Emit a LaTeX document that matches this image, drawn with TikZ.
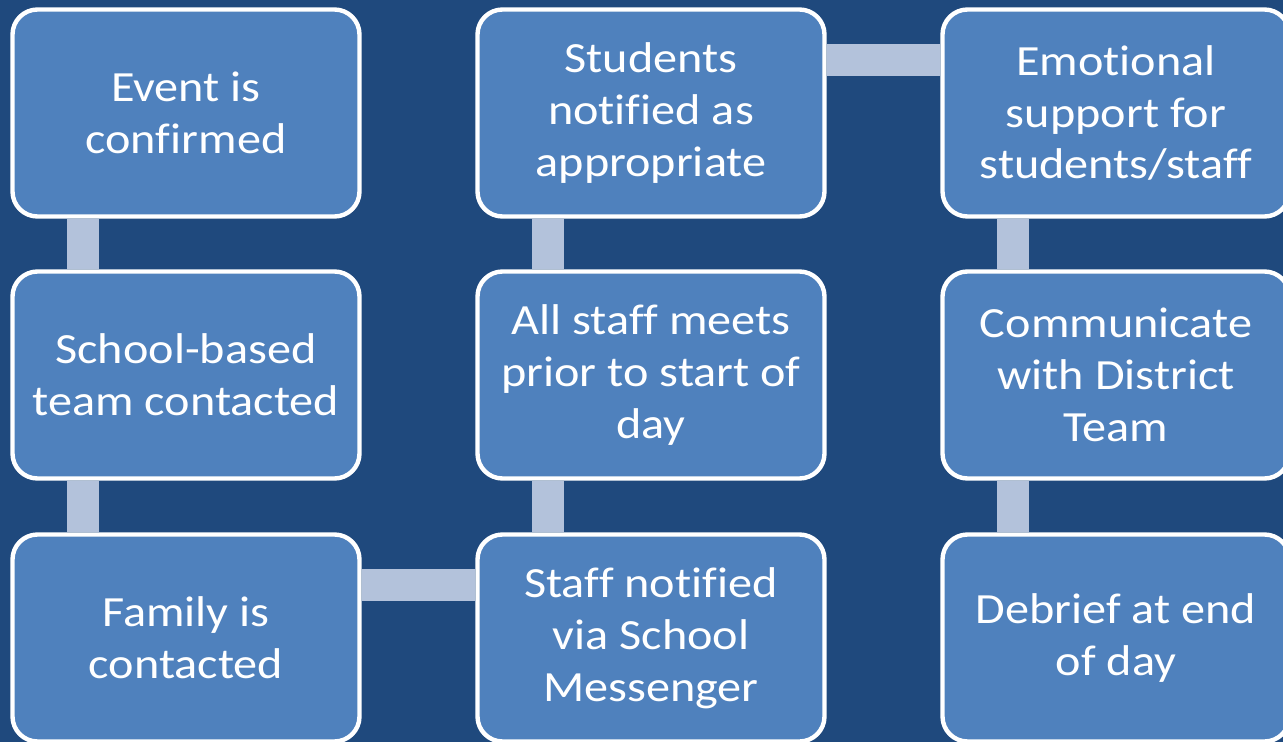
\documentclass[tikz,border=0pt]{standalone}
\usepackage{fontspec}
\setmainfont[Ligatures=NoCommon,FakeStretch=1.12]{Carlito}
\definecolor{slidebg}{RGB}{31,73,125}
\definecolor{boxfill}{RGB}{79,129,189}
\definecolor{barfill}{RGB}{179,194,219}

\begin{document}
\begin{tikzpicture}[
  stepbox/.style={draw=white,line width=2.5pt,fill=boxfill,rounded corners=.5cm,
    minimum width=6.94cm,minimum height=4.14cm,text=white,align=center,
    font=\fontsize{24.5}{29.5}\selectfont},
  link/.style={barfill,line width=.64cm}]
\fill[slidebg] (0,0) rectangle (25.66,-14.84);
\useasboundingbox (0,0) rectangle (25.66,-14.84);
%
\node[stepbox] (event) at (3.72,-2.26) {Event is\\confirmed};
\node[stepbox] (team) at (3.72,-7.50) {School-based\\team contacted};
\node[stepbox] (family) at (3.72,-12.76) {Family is\\contacted};
%
\node[stepbox] (staff) at (13.02,-12.76) {Staff notified\\via School\\Messenger};
\node[stepbox] (meets) at (13.02,-7.50) {All staff meets\\prior to start of\\day};
\node[stepbox] (students) at (13.02,-2.26) {Students\\notified as\\appropriate};
%
\node[stepbox] (support) at (22.32,-2.26) {Emotional\\support for\\students/staff};
\node[stepbox] (district) at (22.32,-7.50) {Communicate\\with District\\Team};
\node[stepbox] (debrief) at (22.32,-12.76) {Debrief at end\\of day};
%
\draw[link] ([xshift=1.46cm]event.south west) -- ([xshift=1.46cm]team.north west);
\draw[link] ([xshift=1.46cm]team.south west) -- ([xshift=1.46cm]family.north west);
\draw[link] ([yshift=-1.05cm]family.north east) -- ([yshift=-1.05cm]staff.north west);
\draw[link] ([xshift=1.46cm]staff.north west) -- ([xshift=1.46cm]meets.south west);
\draw[link] ([xshift=1.46cm]meets.north west) -- ([xshift=1.46cm]students.south west);
\draw[link] ([yshift=-1.05cm]students.north east) -- ([yshift=-1.05cm]support.north west);
\draw[link] ([xshift=1.46cm]support.south west) -- ([xshift=1.46cm]district.north west);
\draw[link] ([xshift=1.46cm]district.south west) -- ([xshift=1.46cm]debrief.north west);
\end{tikzpicture}
\end{document}
